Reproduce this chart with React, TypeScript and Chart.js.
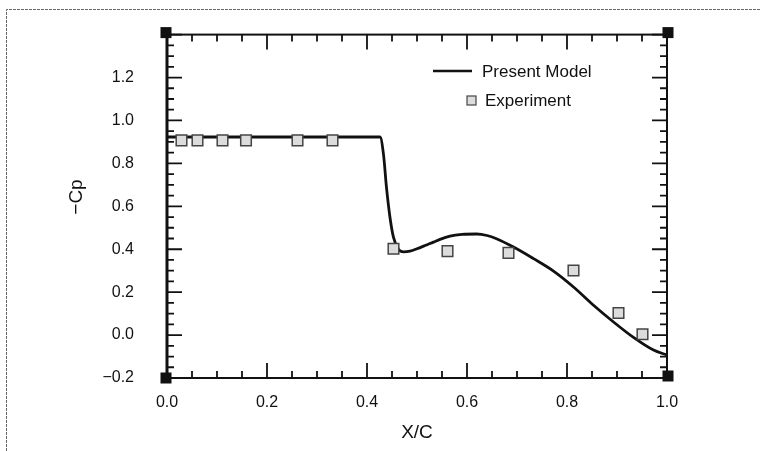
import React, { useEffect, useRef } from 'react';
import { Chart, registerables } from 'chart.js';

Chart.register(...registerables);

// ---- data ----
const modelX = [0.0, 0.1, 0.2, 0.3, 0.426, 0.433, 0.439, 0.446, 0.453, 0.463, 0.473, 0.486, 0.5, 0.519, 0.533, 0.546, 0.566, 0.59, 0.619, 0.64, 0.659, 0.693, 0.733, 0.773, 0.813, 0.853, 0.893, 0.933, 0.973, 1.0];
const modelY = [0.923, 0.923, 0.923, 0.923, 0.923, 0.842, 0.687, 0.548, 0.455, 0.4, 0.388, 0.391, 0.402, 0.42, 0.433, 0.446, 0.461, 0.469, 0.471, 0.464, 0.449, 0.41, 0.356, 0.298, 0.224, 0.139, 0.061, -0.011, -0.07, -0.093];
const expX = [0.029, 0.061, 0.111, 0.158, 0.261, 0.331, 0.453, 0.561, 0.683, 0.813, 0.903, 0.951];
const expY = [0.907, 0.907, 0.907, 0.907, 0.907, 0.907, 0.402, 0.391, 0.383, 0.301, 0.103, 0.004];
const xTicks = [0, 0.2, 0.4, 0.6, 0.8, 1.0];
const yTicks = [-0.2, 0, 0.2, 0.4, 0.6, 0.8, 1.0, 1.2];
const seriesNames = ['Present Model', 'Experiment'];
const xTitle = 'X/C';
const yTitle = '\u2212Cp';

const FONT = "'Liberation Sans', Arial, Helvetica, sans-serif";

const fmt = (v: number) => {
  const s = Math.abs(v).toFixed(1);
  return v < -1e-9 ? '\u2212' + s : s;
};

const framePlugin = {
  id: 'frame',
  beforeDraw(chart: any) {
    const { ctx, width, height } = chart;
    ctx.save();
    ctx.fillStyle = '#fff';
    ctx.fillRect(0, 0, width, height);
    ctx.strokeStyle = '#666';
    ctx.lineWidth = 1;
    ctx.setLineDash([3, 1]);
    ctx.beginPath();
    ctx.moveTo(6.5, height);
    ctx.lineTo(6.5, 9.5);
    ctx.lineTo(width, 9.5);
    ctx.stroke();
    ctx.restore();
  },
  afterDraw(chart: any) {
    const { ctx, chartArea } = chart;
    const { left, right, top, bottom } = chartArea;
    const xs = chart.scales.x;
    const ys = chart.scales.y;
    ctx.save();
    ctx.strokeStyle = '#111';
    ctx.lineWidth = 2;
    ctx.strokeRect(left, top, right - left, bottom - top);
    ctx.lineWidth = 3;
    ctx.beginPath();
    ctx.moveTo(left, top);
    ctx.lineTo(left, bottom);
    ctx.stroke();

    ctx.lineWidth = 1.8;
    ctx.beginPath();
    const xMin = xs.min, xMax = xs.max;
    const nx = Math.round((xMax - xMin) / 0.05);
    for (let i = 0; i <= nx; i++) {
      const v = xMin + i * 0.05;
      const len = i % 4 === 0 ? 15 : 7;
      const px = xs.getPixelForValue(v);
      ctx.moveTo(px, bottom);
      ctx.lineTo(px, bottom - len);
      ctx.moveTo(px, top);
      ctx.lineTo(px, top + len);
    }
    const yMin = ys.min, yMax = ys.max;
    const ny = Math.round((yMax - yMin) / 0.05);
    for (let i = 0; i <= ny; i++) {
      const v = yMin + i * 0.05;
      const len = i % 4 === 0 ? 15 : 7;
      const py = ys.getPixelForValue(v);
      ctx.moveTo(left, py);
      ctx.lineTo(left + len, py);
      ctx.moveTo(right, py);
      ctx.lineTo(right - len, py);
    }
    ctx.stroke();

    // corner squares
    ctx.fillStyle = '#111';
    const s = 11;
    [[left - 1, top - 2], [right + 1, top - 2], [left - 1, bottom], [right + 1, bottom - 2]].forEach(([cx, cy]) => {
      ctx.fillRect(cx - s / 2, cy - s / 2, s, s);
    });

    // legend
    const ds0 = chart.data.datasets[0];
    const ds1 = chart.data.datasets[1];
    ctx.font = `17px ${FONT}`;
    ctx.fillStyle = '#111';
    ctx.textBaseline = 'middle';
    ctx.textAlign = 'left';
    ctx.strokeStyle = ds0.borderColor;
    ctx.lineWidth = 2.5;
    ctx.beginPath();
    ctx.moveTo(433, 71);
    ctx.lineTo(472, 71);
    ctx.stroke();
    ctx.fillText(ds0.label, 482, 72);
    ctx.fillStyle = ds1.backgroundColor;
    ctx.strokeStyle = ds1.borderColor;
    ctx.lineWidth = 1.2;
    ctx.fillRect(467, 96, 9, 9);
    ctx.strokeRect(467, 96, 9, 9);
    ctx.fillStyle = '#111';
    ctx.fillText(ds1.label, 485, 101);

    // y axis title
    ctx.save();
    ctx.translate(77, 197);
    ctx.rotate(-Math.PI / 2);
    ctx.font = `19px ${FONT}`;
    ctx.textAlign = 'center';
    ctx.textBaseline = 'middle';
    ctx.fillText(yTitle, 0, 0);
    ctx.restore();
    ctx.restore();
  },
};

export default function App() {
  const ref = useRef<HTMLCanvasElement | null>(null);
  useEffect(() => {
    if (!ref.current) return;
    const chart = new Chart(ref.current, {
      type: 'scatter',
      data: {
        datasets: [
          {
            label: seriesNames[0],
            data: modelX.map((x, i) => ({ x, y: modelY[i] })),
            showLine: true,
            borderColor: '#111',
            backgroundColor: '#111',
            borderWidth: 2.8,
            pointRadius: 0,
            cubicInterpolationMode: 'monotone',
            order: 2,
          },
          {
            label: seriesNames[1],
            data: expX.map((x, i) => ({ x, y: expY[i] })),
            showLine: false,
            pointStyle: 'rect',
            pointRadius: 7.5,
            backgroundColor: '#dcdcdc',
            borderColor: '#444',
            borderWidth: 1.5,
            order: 1,
          },
        ],
      },
      options: {
        responsive: false,
        animation: false,
        devicePixelRatio: 1,
        layout: { padding: { top: 33, right: 94, left: 0, bottom: 0 } },
        plugins: { legend: { display: false }, tooltip: { enabled: false } },
        scales: {
          x: {
            type: 'linear',
            min: 0,
            max: 1,
            grid: { display: false },
            border: { display: false },
            afterBuildTicks: (s: any) => {
              s.ticks = xTicks.map((v) => ({ value: v }));
            },
            afterFit: (s: any) => {
              s.height = 451 - 378;
            },
            ticks: {
              padding: 7,
              color: '#111',
              font: { size: 16, family: FONT },
              callback: (v: any) => fmt(Number(v)),
              maxRotation: 0,
            },
            title: {
              display: true,
              text: xTitle,
              color: '#111',
              font: { size: 19, family: FONT },
              padding: { top: 0, bottom: 7 },
            },
          },
          y: {
            type: 'linear',
            min: -0.2,
            max: 1.4,
            grid: { display: false },
            border: { display: false },
            afterBuildTicks: (s: any) => {
              s.ticks = yTicks.map((v) => ({ value: v }));
            },
            afterFit: (s: any) => {
              s.width = 167;
            },
            ticks: {
              padding: 25,
              color: '#111',
              font: { size: 16, family: FONT },
              callback: (v: any) => fmt(Number(v)),
            },
            title: { display: false },
          },
        },
      },
      plugins: [framePlugin],
    });
    return () => chart.destroy();
  }, []);
  return (
    <div style={{ position: 'absolute', left: 0, top: 0, width: 761, height: 451, background: '#fff' }}>
      <canvas ref={ref} width={761} height={451} style={{ display: 'block' }} />
    </div>
  );
}
